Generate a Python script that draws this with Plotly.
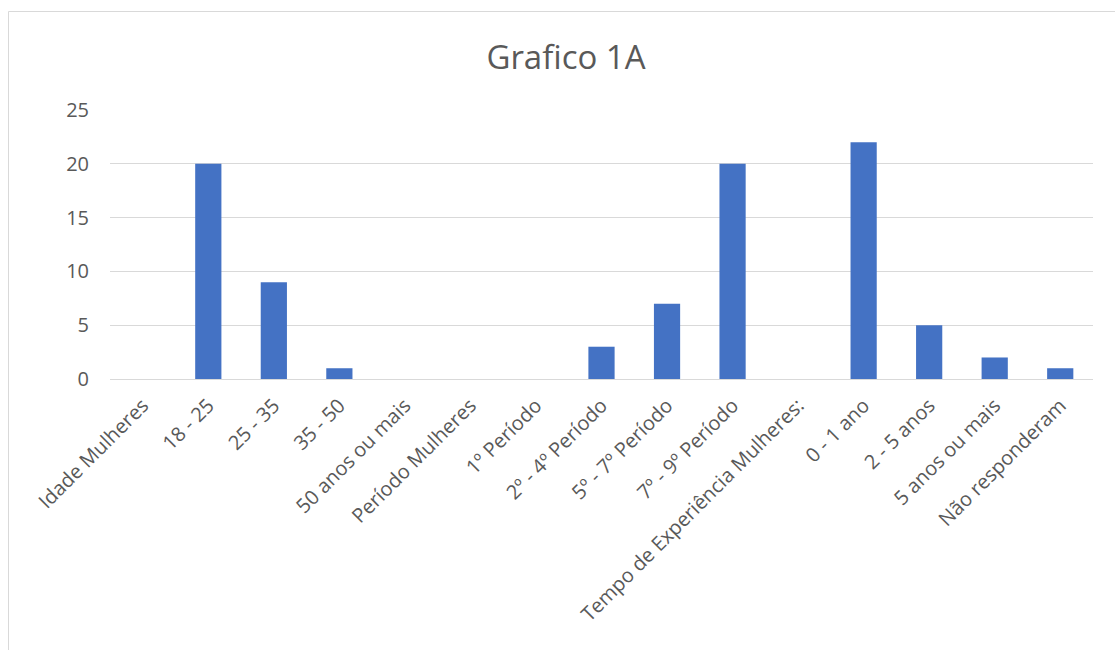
import plotly.graph_objects as go

categories = ["Idade Mulheres", "18 - 25", "25 - 35", "35 - 50", "50 anos ou mais",
              "Período Mulheres", "1º Período", "2º - 4º Período", "5º - 7º Período",
              "7º - 9º Período", "Tempo de Experiência Mulheres:", "0 - 1 ano",
              "2 - 5 anos", "5 anos ou mais", "Não responderam"]
values = [0, 20, 9, 1, 0, 0, 0, 3, 7, 20, 0, 22, 5, 2, 1]
y_ticks = [0, 5, 10, 15, 20, 25]

FONT = "Open Sans, sans-serif"

fig = go.Figure(go.Bar(x=categories, y=values, marker_color="#4472C4",
                       marker_line_width=0, width=0.4))

L, R, T, B = 110, 22, 110, 271
W, H = 1115, 650
pw, ph = W - L - R, H - T - B

def px2x(px):
    return (px - L) / pw

def py2y(py):
    return (H - B - py) / ph

fig.update_layout(
    width=W, height=H,
    margin=dict(l=L, r=R, t=T, b=B),
    paper_bgcolor="white", plot_bgcolor="white",
    showlegend=False,
    title=dict(text="Grafico 1A", x=566 / W, xanchor="center",
               y=1 - 57 / H, yanchor="middle",
               font=dict(family=FONT, size=33, color="#595959")),
    font=dict(family=FONT, color="#595959"),
    xaxis=dict(tickangle=-45, tickfont=dict(size=20, color="#595959"),
               showgrid=False, showline=True, linecolor="#d9d9d9", ticks="",
               ticklabelstandoff=6, automargin=False),
    yaxis=dict(range=[0, 25], tickvals=y_ticks, tickfont=dict(size=20, color="#595959"),
               showgrid=True, gridcolor="#d9d9d9", gridwidth=1, zeroline=False,
               showline=False, ticks="", ticklabelstandoff=20, automargin=False),
    shapes=[dict(type="rect", xref="paper", yref="paper",
                 x0=px2x(8.5), x1=px2x(1130), y0=py2y(11.5), y1=py2y(700),
                 line=dict(color="#d9d9d9", width=1), fillcolor="rgba(0,0,0,0)",
                 layer="below")],
)

fig.write_html("out.html")
